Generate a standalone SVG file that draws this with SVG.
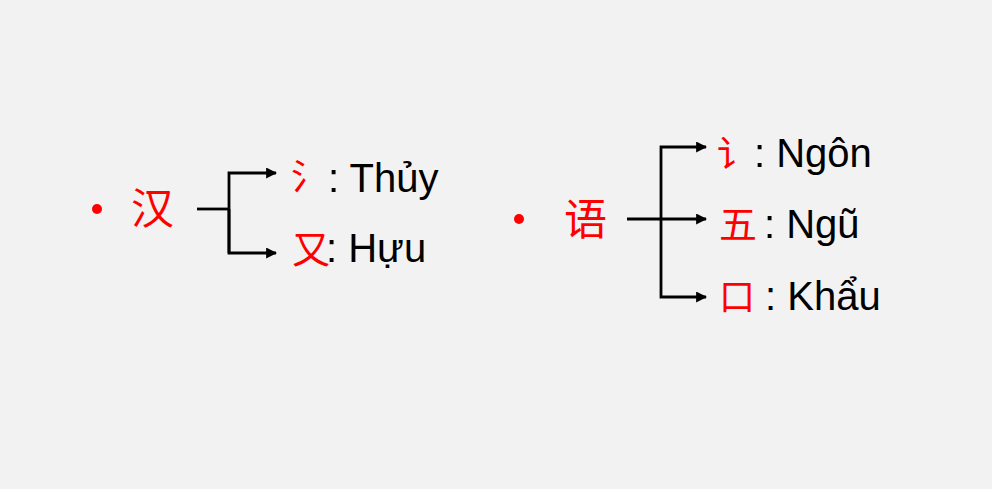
<svg xmlns="http://www.w3.org/2000/svg" width="992" height="489" viewBox="0 0 992 489">
<defs>
<marker id="ah" viewBox="0 0 10 10" refX="9" refY="5" markerWidth="11" markerHeight="11" markerUnits="userSpaceOnUse" orient="auto">
<path d="M0,0 L10,5 L0,10 Z" fill="#000"/>
</marker>
</defs>
<style>
.cjk{font-family:"Noto Sans CJK SC","Noto Sans CJK JP",sans-serif;fill:#ff0000;}
.lbl{font-family:"Liberation Sans",Arial,sans-serif;font-size:40px;fill:#000;}
.ln{fill:none;stroke:#000;stroke-width:2.8;}
.bul{fill:#ff0000;}
</style>
<rect width="992" height="489" fill="#f2f2f2"/>
<g id="han">
<circle class="bul" cx="97" cy="209" r="5"/>
<text class="cjk" x="131" y="224" font-size="43">汉</text>
</g>
<g id="thuy">
<text class="cjk" x="291" y="190" font-size="36">氵</text>
<text class="lbl" x="328" y="192">: Thủy</text>
</g>
<g id="huu">
<text class="cjk" x="292" y="263" font-size="38">又</text>
<text class="lbl" x="326" y="262">: Hựu</text>
</g>
<g id="ngu-root">
<circle class="bul" cx="519" cy="219" r="5"/>
<text class="cjk" x="564" y="235" font-size="43">语</text>
</g>
<g id="ngon">
<text class="cjk" x="717" y="167" font-size="36">讠</text>
<text class="lbl" x="754" y="167">: Ngôn</text>
</g>
<g id="ngu">
<text class="cjk" x="719" y="238" font-size="38">五</text>
<text class="lbl" x="764" y="238">: Ngũ</text>
</g>
<g id="khau">
<text class="cjk" x="719" y="310" font-size="36">口</text>
<text class="lbl" x="765" y="310">: Khẩu</text>
</g>
<g id="connectors">
<path class="ln" d="M197,209 H229"/>
<path class="ln" d="M229,253 V173 H276" marker-end="url(#ah)"/>
<path class="ln" d="M229,209 V253 H276" marker-end="url(#ah)"/>
<path class="ln" d="M627,219 H706" marker-end="url(#ah)"/>
<path class="ln" d="M661,219 V147 H706" marker-end="url(#ah)"/>
<path class="ln" d="M661,219 V297 H706" marker-end="url(#ah)"/>
</g>
</svg>
